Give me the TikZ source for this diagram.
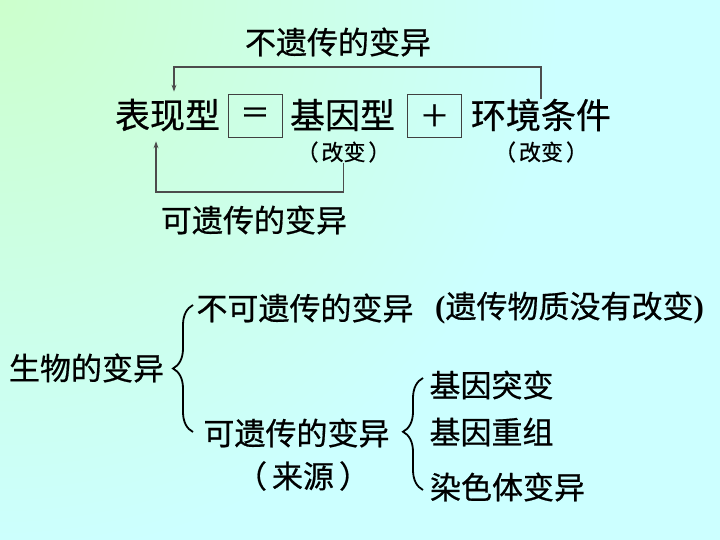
\documentclass[tikz,border=0pt]{standalone}
\usepackage{fontspec}
\setmainfont{Noto Sans CJK SC}[FakeBold=0.6]
\newfontfamily\parenfont{Liberation Serif}
\usetikzlibrary{arrows.meta,positioning,calc,decorations.pathreplacing,shadings}
\definecolor{bggreen}{RGB}{204,255,204}
\definecolor{bgcyan}{RGB}{204,255,255}
\newcommand{\fwparen}[2]{（\hspace{#1}#2\hspace{#1}）}

\begin{document}
\begin{tikzpicture}[
    x=1pt, y=-1pt,
    big/.style={inner sep=0pt, font=\fontsize{35}{40}\selectfont},
    txt/.style={inner sep=0pt, font=\fontsize{31}{36}\selectfont},
    small/.style={inner sep=0pt, font=\fontsize{22}{26}\selectfont},
    opbox/.style={draw=black!75, line width=0.8pt, minimum width=54pt, minimum height=43pt, inner sep=0pt, font=\fontsize{30}{36}\selectfont},
    link/.style={draw=black!70, line width=1.3pt},
    curly/.style={draw, decorate, decoration={brace, amplitude=20pt, aspect=#1}, line width=1.8pt},
    >={Stealth[length=7pt,width=5pt]}
  ]
  % Background
  \fill[bgcyan] (0,0) rectangle (720,540);
  \begin{scope}
    \clip (0,0) rectangle (720,540);
    \shade[inner color=bggreen, outer color=bgcyan] (0,0) circle (560);
  \end{scope}
  \useasboundingbox (0,0) rectangle (720,540);

  % Equation line
  \node[big] (pheno) at (167.5,115) {表现型};
  \node[opbox] (eq) at (255,115.5) {＝};
  \node[big] (geno) at (342.5,115) {基因型};
  \node[opbox] (plus) at (434.5,115.5) {＋};
  \node[big] (env) at (541,115) {环境条件};
  \node[small] (gchg) at (343.5,152) {\fwparen{3pt}{改变}};
  \node[small] (echg) at (541,152) {\fwparen{3pt}{改变}};

  % Non-heritable loop (top)
  \coordinate (topbar) at (0,67);
  \node[txt] (nonhertop) at (338,42) {不遗传的变异};
  \draw[link,->,shorten >=7pt] (env.north) -- (env.north |- topbar) -| ([xshift=6.5pt]pheno.north);

  % Heritable loop (bottom)
  \coordinate (botbar) at (0,192);
  \node[txt] (herbot) at (254,220) {可遗传的变异};
  \draw[link,->,shorten >=10pt] (gchg.south) -- (gchg.south |- botbar) -| ([xshift=-11.5pt]pheno.south);

  % Classification
  \node[txt] (var) at (86.5,368) {生物的变异};
  \node[txt] (nonher) at (305,308) {不可遗传的变异};
  \node[txt, anchor=west] (nochg) at (435,308) {{\parenfont\bfseries(}遗传物质没有改变{\parenfont\bfseries)}};
  \node[txt] (her) at (296.5,433) {可遗传的变异};
  \node[txt] (src) at (303,476) {\fwparen{5pt}{来源}};
  \node[txt] (mut) at (491.5,385) {基因突变};
  \node[txt] (recomb) at (491.5,432) {基因重组};
  \node[txt] (chrom) at (507.5,487) {染色体变异};

  % Braces
  \coordinate (b1top) at (193,305);
  \coordinate (b1bot) at (193,432);
  \coordinate (b2top) at (423,378);
  \coordinate (b2bot) at (423,490);
  \draw[curly=0.5] (b1bot) -- (b1top);
  \draw[curly=0.52] (b2bot) -- (b2top);

\end{tikzpicture}
\end{document}
